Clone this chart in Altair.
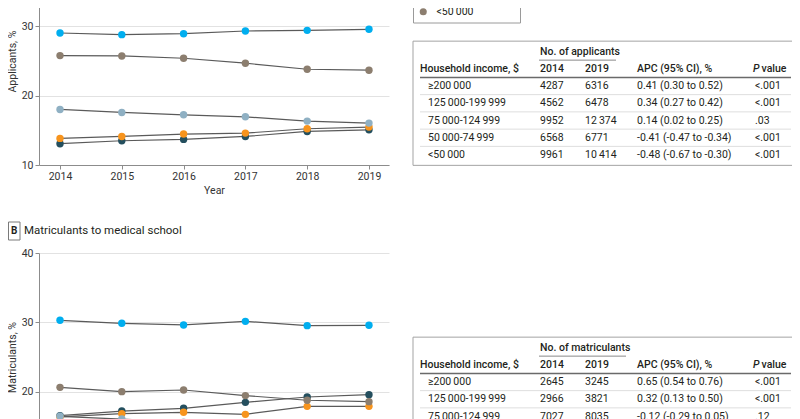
import altair as alt
import pandas as pd

# ---------------- data ----------------
years = [2014, 2015, 2016, 2017, 2018, 2019]
income_groups = ["≥200\u2009000", "125\u2009000-199\u2009999", "75\u2009000-124\u2009999",
                 "50\u2009000-74\u2009999", "<50\u2009000"]
group_colors = ["#244f5e", "#f7941d", "#00aeef", "#8fb0c3", "#8c7e6f"]

# Panel A: applicants, %
app_ge200k = [13.07, 13.50, 13.69, 14.12, 14.84, 15.08]
app_125k = [13.84, 14.12, 14.46, 14.60, 15.23, 15.47]
app_75k = [29.04, 28.80, 28.94, 29.33, 29.42, 29.57]
app_50k = [18.01, 17.58, 17.24, 16.95, 16.33, 16.04]
app_lt50k = [25.78, 25.73, 25.40, 24.68, 23.81, 23.67]

# Panel B: matriculants, %
mat_ge200k = [16.55, 17.20, 17.60, 18.46, 19.23, 19.56]
mat_125k = [16.35, 16.83, 17.02, 16.73, 17.88, 17.88]
mat_75k = [30.29, 29.86, 29.62, 30.14, 29.52, 29.57]
mat_50k = [16.45, 16.05, 15.60, 15.40, 15.25, 15.10]
mat_lt50k = [20.62, 20.00, 20.24, 19.43, 18.76, 18.56]

# Table A
app_n2014 = [4287, 4562, 9952, 6568, 9961]
app_n2019 = [6316, 6478, 12374, 6771, 10414]
app_apc = ["0.41 (0.30 to 0.52)", "0.34 (0.27 to 0.42)", "0.14 (0.02 to 0.25)",
           "-0.41 (-0.47 to -0.34)", "-0.48 (-0.67 to -0.30)"]
app_p = ["<.001", "<.001", ".03", "<.001", "<.001"]

# Table B (visible rows)
mat_n2014 = [2645, 2966, 7027]
mat_n2019 = [3245, 3821, 8035]
mat_apc = ["0.65 (0.54 to 0.76)", "0.32 (0.13 to 0.50)", "-0.12 (-0.29 to 0.05)"]
mat_p = ["<.001", "<.001", ".12"]

FONT = "Roboto"
TXT = "#231f20"
PLOT_W, PLOT_H = 350, 208
TABLE_W = 385


def long_df(series):
    recs = []
    for g, vals in zip(income_groups, series):
        for yr, v in zip(years, vals):
            recs.append({"year": yr, "group": g, "pct": v})
    return pd.DataFrame(recs)


def panel(series, y_title, letter, title, show_legend):
    df = long_df(series)
    x = alt.X("year:Q", scale=alt.Scale(domain=[2013.66, 2019.324], nice=False, zero=False),
              axis=alt.Axis(values=years, format="d", title="Year", grid=False))
    y = alt.Y("pct:Q", scale=alt.Scale(domain=[10, 40], nice=False, zero=False),
              axis=alt.Axis(values=[10, 20, 30, 40], title=y_title, grid=True))
    lines = alt.Chart(df).mark_line(color="#5a5a5a", strokeWidth=1.2).encode(
        x=x, y=y, detail="group:N")
    if show_legend:
        leg = alt.Legend(title=None, orient="none", legendX=374, legendY=-3.5,
                         direction="vertical", symbolType="circle", symbolSize=50,
                         symbolStrokeWidth=0, symbolOpacity=1,
                         labelFont=FONT, labelFontSize=10.5, labelColor=TXT,
                         labelOffset=8, padding=5, rowPadding=1,
                         strokeColor="#9a9a9a", fillColor="white")
    else:
        leg = None
    pts = alt.Chart(df).mark_circle(size=55, opacity=1).encode(
        x=x, y=y,
        color=alt.Color("group:N", scale=alt.Scale(domain=income_groups, range=group_colors),
                        legend=leg))
    one = pd.DataFrame({"k": [0]})
    box = alt.Chart(one).mark_rect(fillOpacity=0, stroke="#7a7a7a", strokeWidth=1).encode(
        x=alt.value(-30.5), x2=alt.value(-19), y=alt.value(-31), y2=alt.value(-13))
    lab = alt.Chart(one).mark_text(text=letter, font=FONT, fontSize=10, fontWeight="bold",
                                   color=TXT, align="center", baseline="middle").encode(
        x=alt.value(-24.75), y=alt.value(-22))
    ttl = alt.Chart(one).mark_text(text=title, font=FONT, fontSize=11.5, color=TXT,
                                   align="left", baseline="middle").encode(
        x=alt.value(-15), y=alt.value(-22))
    return alt.layer(lines, pts, box, lab, ttl).properties(width=PLOT_W, height=PLOT_H)


def fmt_n(v):
    s = f"{v:,}"
    return s.replace(",", "\u2009") if v >= 10000 else s.replace(",", "")


def table(caption, labels, n14, n19, apc, pv, underline_end):
    n = len(labels)
    ys = alt.Scale(domain=[-2, 4], range=[94.5, 198], nice=False, zero=False)
    Y = alt.Y("r:Q", scale=ys, axis=None)
    body = pd.DataFrame({"r": list(range(n)), "label": labels,
                         "n14": [fmt_n(v) for v in n14], "n19": [fmt_n(v) for v in n19],
                         "apc": apc, "p": pv})
    head = pd.DataFrame({"r": [-1], "label": ["Household income, $"],
                         "n14": [str(years[0])], "n19": [str(years[-1])],
                         "apc": ["APC (95% CI), %"], "p": ["P"], "v": ["value"]})
    cap = pd.DataFrame({"r": [-2], "t": [caption]})
    frame = pd.DataFrame({"r": [-2.6], "r2": [4.6]})
    seps = pd.DataFrame({"r": [i + 0.5 for i in range(min(n - 1, 4))]})
    hline = pd.DataFrame({"r": [-0.5]})
    uline = pd.DataFrame({"r": [-1.5]})

    def txt(df, field, xpos, weight="normal", style="normal"):
        return alt.Chart(df).mark_text(font=FONT, fontSize=10.5, color=TXT, align="left",
                                       baseline="middle", fontWeight=weight,
                                       fontStyle=style).encode(
            x=alt.value(xpos), y=Y, text=f"{field}:N")

    layers = [
        alt.Chart(frame).mark_rect(fillOpacity=0, stroke="#a3a3a3", strokeWidth=1).encode(
            x=alt.value(0), x2=alt.value(TABLE_W), y=Y, y2="r2:Q"),
        alt.Chart(seps).mark_rule(color="#dedede", strokeWidth=1).encode(
            x=alt.value(7), x2=alt.value(378), y=Y),
        alt.Chart(hline).mark_rule(color="#6a6a6a", strokeWidth=1.5).encode(
            x=alt.value(7), x2=alt.value(378), y=Y),
        alt.Chart(uline).mark_rule(color="#8a8a8a", strokeWidth=1).encode(
            x=alt.value(126), x2=alt.value(underline_end), y=Y),
        txt(cap, "t", 127, weight=500),
        txt(head, "label", 7, weight=500),
        txt(head, "n14", 127, weight=500),
        txt(head, "n19", 172, weight=500),
        txt(head, "apc", 224, weight=500),
        txt(head, "p", 340, weight=500, style="italic"),
        txt(head, "v", 348.5, weight=500),
        txt(body, "label", 15),
        txt(body, "n14", 127),
        txt(body, "n19", 172),
        txt(body, "apc", 224),
        txt(body, "p", 342),
    ]
    return alt.layer(*layers).properties(width=TABLE_W, height=PLOT_H)


panel_a = panel([app_ge200k, app_125k, app_75k, app_50k, app_lt50k],
                "Applicants, %", "A", "Applicants to medical school", True)
panel_b = panel([mat_ge200k, mat_125k, mat_75k, mat_50k, mat_lt50k],
                "Matriculants, %", "B", "Matriculants to medical school", False)
table_a = table("No. of applicants", income_groups, app_n2014, app_n2019, app_apc, app_p, 203)
table_b = table("No. of matriculants", income_groups[:3], mat_n2014, mat_n2019, mat_apc, mat_p, 213)

row_a = alt.hconcat(panel_a, table_a, spacing=24, bounds="flush")
row_b = alt.hconcat(panel_b, table_b, spacing=24, bounds="flush")

chart = (
    alt.vconcat(row_a, row_b, spacing=PLOT_H + 88, bounds="flush")
    .properties(padding={"top": -83, "left": -1, "right": -7, "bottom": -60},
                background="white")
    .configure(font=FONT)
    .configure_view(strokeWidth=0)
    .configure_axis(labelFont=FONT, labelFontSize=10.5, labelColor="#333333",
                    titleFont=FONT, titleFontSize=10.5, titleFontWeight="normal",
                    titleColor="#333333", domainColor="#8c8c8c", tickColor="#8c8c8c",
                    tickSize=4, labelPadding=2, gridColor="#e2e2e2")
)

chart.save("out.html", embed_options={"renderer": "svg", "actions": False})
